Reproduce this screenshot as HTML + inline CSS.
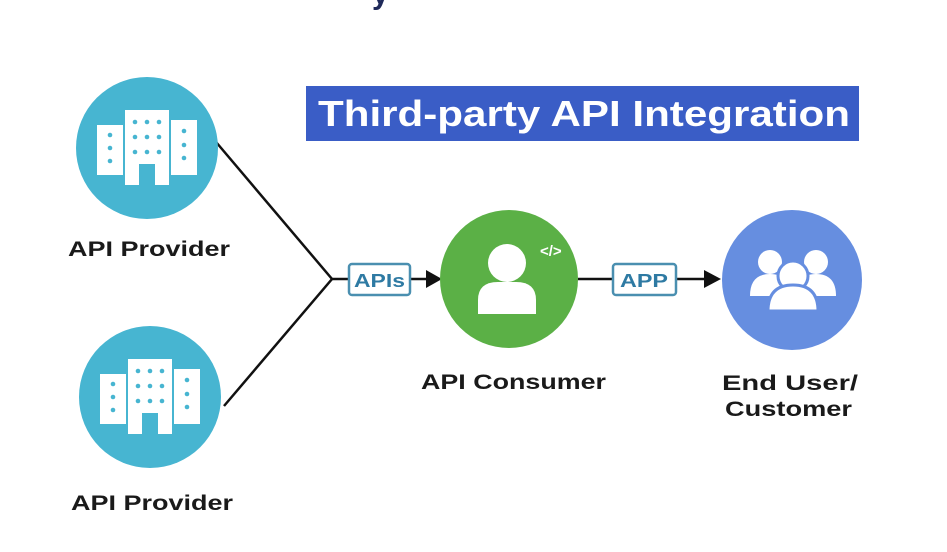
<!DOCTYPE html>
<html><head><style>
body{margin:0;width:947px;height:547px;background:#fff;overflow:hidden;font-family:"Liberation Sans",sans-serif}
</style></head><body>
<svg width="947" height="547" xmlns="http://www.w3.org/2000/svg" font-family="Liberation Sans, sans-serif" font-weight="bold">
<text x="372" y="4" font-size="30" fill="#1f2a5a">y</text>
<rect x="306" y="86" width="553" height="55" fill="#3a5dc6"/>
<text x="318" y="126" font-size="36" fill="#fff" textLength="532" lengthAdjust="spacingAndGlyphs">Third-party API Integration</text>
<g stroke="#111" stroke-width="2.5" fill="none">
<polyline points="216,142 332,279 224,406"/>
<line x1="332" y1="279" x2="349" y2="279"/>
<line x1="410" y1="279" x2="428" y2="279"/>
<line x1="578" y1="279" x2="612" y2="279"/>
<line x1="676" y1="279" x2="706" y2="279"/>
</g>
<polygon points="426,270 442,279 426,288" fill="#111"/>
<polygon points="704,270 721,279 704,288" fill="#111"/>
<rect x="349" y="264" width="61" height="31" rx="3" fill="#fff" stroke="#4a8fb0" stroke-width="2.5"/>
<text x="354" y="287" font-size="18" fill="#2e7aa3" textLength="51" lengthAdjust="spacingAndGlyphs">APIs</text>
<rect x="613" y="264" width="63" height="31" rx="3" fill="#fff" stroke="#4a8fb0" stroke-width="2.5"/>
<text x="620" y="287" font-size="18" fill="#2e7aa3" textLength="48" lengthAdjust="spacingAndGlyphs">APP</text>
<g id="b">
<circle cx="147" cy="148" r="71" fill="#47b5d1"/>
<g fill="#fff">
<rect x="97" y="125" width="26" height="50"/>
<rect x="171" y="120" width="26" height="55"/>
<rect x="125" y="110" width="44" height="75"/>
</g>
<g fill="#47b5d1">
<rect x="139" y="164" width="16" height="22"/>
<circle cx="110" cy="135" r="2.3"/><circle cx="110" cy="148" r="2.3"/><circle cx="110" cy="161" r="2.3"/>
<circle cx="184" cy="131" r="2.3"/><circle cx="184" cy="145" r="2.3"/><circle cx="184" cy="158" r="2.3"/>
<circle cx="135" cy="122" r="2.3"/><circle cx="147" cy="122" r="2.3"/><circle cx="159" cy="122" r="2.3"/>
<circle cx="135" cy="137" r="2.3"/><circle cx="147" cy="137" r="2.3"/><circle cx="159" cy="137" r="2.3"/>
<circle cx="135" cy="152" r="2.3"/><circle cx="147" cy="152" r="2.3"/><circle cx="159" cy="152" r="2.3"/>
</g>
</g>
<use href="#b" transform="translate(3,249)"/>
<text x="68" y="256" font-size="21" fill="#1a1a1a" textLength="162" lengthAdjust="spacingAndGlyphs">API Provider</text>
<text x="71" y="510" font-size="21" fill="#1a1a1a" textLength="162" lengthAdjust="spacingAndGlyphs">API Provider</text>
<circle cx="509" cy="279" r="69" fill="#5bb046"/>
<circle cx="507" cy="263" r="19" fill="#fff"/>
<path d="M478 314 v-14 q0 -18 20 -18 h18 q20 0 20 18 v14 z" fill="#fff"/>
<text x="540" y="256" font-size="15" fill="#fff">&lt;/&gt;</text>
<text x="421" y="389" font-size="21" fill="#1a1a1a" textLength="185" lengthAdjust="spacingAndGlyphs">API Consumer</text>
<circle cx="792" cy="280" r="70" fill="#668ee0"/>
<g fill="#fff">
<circle cx="770" cy="262" r="12"/><circle cx="816" cy="262" r="12"/>
<path d="M750 296 q0 -22 20 -22 q20 0 20 22 z"/><path d="M796 296 q0 -22 20 -22 q20 0 20 22 z"/>
<circle cx="793" cy="276" r="15" stroke="#668ee0" stroke-width="3"/>
<path d="M768 311 q0 -26 25 -26 q25 0 25 26 z" stroke="#668ee0" stroke-width="3"/>
</g>
<text x="722" y="390" font-size="21" fill="#1a1a1a" textLength="136" lengthAdjust="spacingAndGlyphs">End User/</text>
<text x="725" y="416" font-size="21" fill="#1a1a1a" textLength="127" lengthAdjust="spacingAndGlyphs">Customer</text>
</svg>
</body></html>
